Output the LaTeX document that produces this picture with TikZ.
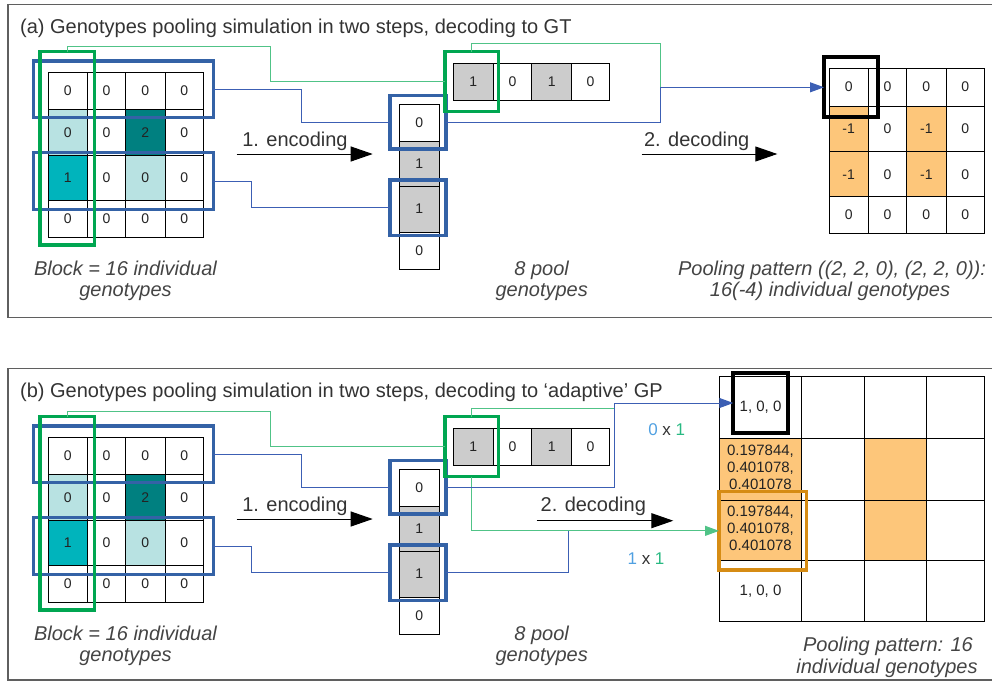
\documentclass[tikz,border=0pt]{standalone}
\usepackage{fontspec}
\setmainfont{Liberation Sans}
\usetikzlibrary{arrows.meta}

\definecolor{txt}{RGB}{51,51,51}
\definecolor{celltxt}{RGB}{35,35,35}
\definecolor{captc}{RGB}{68,68,68}
\definecolor{framec}{RGB}{95,95,95}
\definecolor{ltteal}{RGB}{184,226,226}
\definecolor{tealmid}{RGB}{0,180,188}
\definecolor{dkteal}{RGB}{0,128,128}
\definecolor{poolgray}{RGB}{204,204,204}
\definecolor{cBlue}{RGB}{52,98,166}
\definecolor{cGreen}{RGB}{0,166,81}
\definecolor{cBlueThin}{RGB}{60,95,180}
\definecolor{cGreenThin}{RGB}{80,195,135}
\definecolor{cOrange}{RGB}{253,198,122}
\definecolor{cOrangeBox}{RGB}{214,140,20}
\definecolor{cLblBlue}{RGB}{80,160,225}
\definecolor{cLblGreen}{RGB}{40,185,130}

\tikzset{
  cellbox/.style={draw=black, line width=0.9pt, inner sep=0pt, outer sep=0pt, text=celltxt, font=\fontsize{14}{16}\selectfont},
  widecell/.style={font=\fontsize{15}{17}\selectfont},
  rowpool/.style={draw=cBlue, line width=3.2pt, inner sep=0pt, outer sep=0pt},
  colpool/.style={draw=cGreen, line width=3.2pt, inner sep=0pt, outer sep=0pt},
  selbox/.style={draw=black, line width=3.8pt, inner sep=0pt, outer sep=0pt},
  obox/.style={draw=cOrangeBox, line width=3.2pt, inner sep=0pt, outer sep=0pt},
  bline/.style={draw=cBlueThin, line width=1pt},
  gline/.style={draw=cGreenThin, line width=1pt},
  endtip/.style={-{Triangle[length=14pt,width=10pt]}},
  steparrow/.style={draw=black, line width=1pt, -{Triangle[length=22pt,width=15pt]}},
  titletxt/.style={font=\fontsize{20}{24}\selectfont, text=txt, inner sep=0pt, anchor=base west},
  steptxt/.style={font=\fontsize{20}{24}\selectfont, text=txt, inner sep=0pt, anchor=base},
  capt/.style={font=\fontsize{20}{24}\selectfont\itshape, text=captc, inner sep=0pt, anchor=base},
  xlbl/.style={font=\fontsize{17}{20}\selectfont, inner sep=0pt},
  frameline/.style={draw=framec, line width=1.2pt},
}

% cell: name, x1, y1, x2, y2, fill, text, extra style
\newcommand{\gcell}[8][]{%
  \pgfmathsetmacro{\gcW}{#5-#3}\pgfmathsetmacro{\gcH}{#6-#4}%
  \node[cellbox, #1, fill=#7, minimum width=\gcW pt, minimum height=\gcH pt, anchor=north west] (#2) at (#3,#4) {#8};}
% box: style, name, x1, y1, x2, y2
\newcommand{\boxnode}[6]{%
  \pgfmathsetmacro{\gcW}{#5-#3}\pgfmathsetmacro{\gcH}{#6-#4}%
  \node[#1, minimum width=\gcW pt, minimum height=\gcH pt, anchor=north west] (#2) at (#3,#4) {};}
% three-line probability text, raised a little
\newcommand{\probtxt}{\raisebox{2.5pt}{\begin{tabular}{@{}c@{}}0.197844,\\0.401078,\\0.401078\end{tabular}}}

\newcommand{\leftpart}[1]{%
  \gcell{#1g11}{48.3}{72.3}{87.3}{109.3}{white}{0}
  \gcell{#1g12}{87.3}{72.3}{125.7}{109.3}{white}{0}
  \gcell{#1g13}{125.7}{72.3}{165}{109.3}{white}{0}
  \gcell{#1g14}{165}{72.3}{203.3}{109.3}{white}{0}
  \gcell{#1g21}{48.3}{109.3}{87.3}{155.7}{ltteal}{0}
  \gcell{#1g22}{87.3}{109.3}{125.7}{155.7}{white}{0}
  \gcell{#1g23}{125.7}{109.3}{165}{155.7}{dkteal}{2}
  \gcell{#1g24}{165}{109.3}{203.3}{155.7}{white}{0}
  \gcell{#1g31}{48.3}{155.7}{87.3}{200}{tealmid}{1}
  \gcell{#1g32}{87.3}{155.7}{125.7}{200}{white}{0}
  \gcell{#1g33}{125.7}{155.7}{165}{200}{ltteal}{0}
  \gcell{#1g34}{165}{155.7}{203.3}{200}{white}{0}
  \gcell{#1g41}{48.3}{200}{87.3}{237.3}{white}{0}
  \gcell{#1g42}{87.3}{200}{125.7}{237.3}{white}{0}
  \gcell{#1g43}{125.7}{200}{165}{237.3}{white}{0}
  \gcell{#1g44}{165}{200}{203.3}{237.3}{white}{0}
  \boxnode{rowpool}{#1r1}{33.3}{61}{213.3}{117.7}
  \boxnode{rowpool}{#1r2}{33.3}{152.7}{213.3}{209.3}
  \boxnode{colpool}{#1c1}{40}{51.7}{94.3}{245}
  % pool column
  \gcell{#1v1}{399.3}{104.3}{439.3}{141.7}{white}{0}
  \gcell{#1v2}{399.3}{141.7}{439.3}{186}{poolgray}{1}
  \gcell{#1v3}{399.3}{186}{439.3}{232}{poolgray}{1}
  \gcell{#1v4}{399.3}{232}{439.3}{269.3}{white}{0}
  \boxnode{rowpool}{#1p1}{390}{95.7}{446}{149}
  \boxnode{rowpool}{#1p3}{390}{180}{446}{235.7}
  % pool row
  \gcell{#1h1}{453.3}{63.3}{493.3}{100}{poolgray}{1}
  \gcell{#1h2}{493.3}{63.3}{531.7}{100}{white}{0}
  \gcell{#1h3}{531.7}{63.3}{571.7}{100}{poolgray}{1}
  \gcell{#1h4}{571.7}{63.3}{609.3}{100}{white}{0}
  \boxnode{colpool}{#1q1}{445}{51.7}{498.3}{111.7}
  % connectors
  \draw[bline] (#1r1.east) -- ++(88.4,0) |- (#1p1.west);
  \draw[bline] (#1r2.east) -- ++(38.4,0) |- (#1p3.west);
  \draw[gline] (#1c1.north) -- ++(0,-5) -| ([xshift=-175pt]#1q1.west) -- (#1q1.west);
  % encoding step
  \coordinate (#1encS) at (236.7,154);
  \coordinate (#1encE) at (372.7,154);
  \draw[steparrow] (#1encS) -- (#1encE);
  \node[steptxt] (#1enc) at (295,146.5) {1. encoding};
  % captions
  \node[capt] (#1cb1) at (125.5,275) {Block = 16 individual};
  \node[capt] (#1cb2) at (125.5,296.7) {genotypes};
  \node[capt] (#1cp1) at (541.7,275) {8 pool};
  \node[capt] (#1cp2) at (541.7,296.7) {genotypes};
}

\begin{document}
\begin{tikzpicture}[x=1pt, y=-1pt]
\useasboundingbox (0,0) rectangle (992,683);

% ---------------- panel (a) ----------------
\draw[frameline] (992,4.5) -- (8,4.5) -- (8,317.7) -- (992,317.7);
\node[titletxt] (atitle) at (20,33.3) {(a) Genotypes pooling simulation in two steps, decoding to GT};
\leftpart{a}

% target grid (a)
\gcell{t11}{829}{68.3}{868.3}{106}{white}{0}
\gcell{t12}{868.3}{68.3}{906.7}{106}{white}{0}
\gcell{t13}{906.7}{68.3}{946}{106}{white}{0}
\gcell{t14}{946}{68.3}{984.3}{106}{white}{0}
\gcell{t21}{829}{106}{868.3}{151.7}{cOrange}{-1}
\gcell{t22}{868.3}{106}{906.7}{151.7}{white}{0}
\gcell{t23}{906.7}{106}{946}{151.7}{cOrange}{-1}
\gcell{t24}{946}{106}{984.3}{151.7}{white}{0}
\gcell{t31}{829}{151.7}{868.3}{196.7}{cOrange}{-1}
\gcell{t32}{868.3}{151.7}{906.7}{196.7}{white}{0}
\gcell{t33}{906.7}{151.7}{946}{196.7}{cOrange}{-1}
\gcell{t34}{946}{151.7}{984.3}{196.7}{white}{0}
\gcell{t41}{829}{196.7}{868.3}{233.3}{white}{0}
\gcell{t42}{868.3}{196.7}{906.7}{233.3}{white}{0}
\gcell{t43}{906.7}{196.7}{946}{233.3}{white}{0}
\gcell{t44}{946}{196.7}{984.3}{233.3}{white}{0}
\boxnode{selbox}{tbA}{824}{57.3}{878.3}{117.3}

\coordinate (jA) at (660.7,87.3);
\draw[bline, endtip] (ap1.east) -| (jA) -- (tbA.west);
\draw[gline] (aq1.north) -- ++(0,-8.4) -| (jA);

\coordinate (adecS) at (641.7,154);
\coordinate (adecE) at (777.3,154);
\draw[steparrow] (adecS) -- (adecE);
\node[steptxt] (adec) at (696.7,146.5) {2. decoding};

\node[capt] (apat1) at (832,275) {Pooling pattern ((2, 2, 0), (2, 2, 0)):};
\node[capt] (apat2) at (830,296.7) {16(-4) individual genotypes};

% ---------------- panel (b) ----------------
\draw[frameline] (992,368.3) -- (8,368.3) -- (8,680) -- (992,680);
\node[titletxt] (btitle) at (20,397.3) {(b) Genotypes pooling simulation in two steps, decoding to ‘adaptive’ GP};
\begin{scope}[yshift=-365pt]
\leftpart{b}
\end{scope}

% target grid (b)
\gcell[widecell]{u11}{719.3}{376}{801.7}{438.3}{white}{1, 0, 0}
\gcell{u12}{801.7}{376}{864.3}{438.3}{white}{}
\gcell{u13}{864.3}{376}{926}{438.3}{white}{}
\gcell{u14}{926}{376}{984.3}{438.3}{white}{}
\gcell[widecell]{u21}{719.3}{438.3}{801.7}{500}{cOrange}{\probtxt}
\gcell{u22}{801.7}{438.3}{864.3}{500}{white}{}
\gcell{u23}{864.3}{438.3}{926}{500}{cOrange}{}
\gcell{u24}{926}{438.3}{984.3}{500}{white}{}
\gcell[widecell]{u31}{719.3}{500}{801.7}{560}{cOrange}{\probtxt}
\gcell{u32}{801.7}{500}{864.3}{560}{white}{}
\gcell{u33}{864.3}{500}{926}{560}{cOrange}{}
\gcell{u34}{926}{500}{984.3}{560}{white}{}
\gcell[widecell]{u41}{719.3}{560}{801.7}{621.7}{white}{1, 0, 0}
\gcell{u42}{801.7}{560}{864.3}{621.7}{white}{}
\gcell{u43}{864.3}{560}{926}{621.7}{white}{}
\gcell{u44}{926}{560}{984.3}{621.7}{white}{}
\boxnode{selbox}{tbB}{733.3}{373.3}{787.7}{432.7}
\boxnode{obox}{obB}{719}{491.7}{806.7}{570}

\coordinate (jB1) at (614.3,403);
\coordinate (jB1g) at (614.3,408.3);
\coordinate (jB2) at (568.3,530.85);
\draw[gline] (bq1.north) -- ++(0,-8.4) -- (jB1g);
\draw[gline, endtip] (bq1.south) |- (obB.west);
\draw[bline, endtip] (bp1.east) -| (jB1) -- (tbB.west);
\draw[bline] (bp3.east) -| (jB2);

\node[xlbl] (l01) at (666.7,429.3) {\textcolor{cLblBlue}{0} \textcolor{txt}{x} \textcolor{cLblGreen}{1}};
\node[xlbl] (l11) at (646,558.3) {\textcolor{cLblBlue}{1} \textcolor{txt}{x} \textcolor{cLblGreen}{1}};

\coordinate (bdecS) at (536.7,520.7);
\coordinate (bdecE) at (673.3,520.7);
\draw[steparrow] (bdecS) -- (bdecE);
\node[steptxt] (bdec) at (593.3,511.7) {2. decoding};

\node[capt] (bpat1) at (888,651.7) {Pooling pattern: 16};
\node[capt] (bpat2) at (887,673.3) {individual genotypes};
\end{tikzpicture}
\end{document}
